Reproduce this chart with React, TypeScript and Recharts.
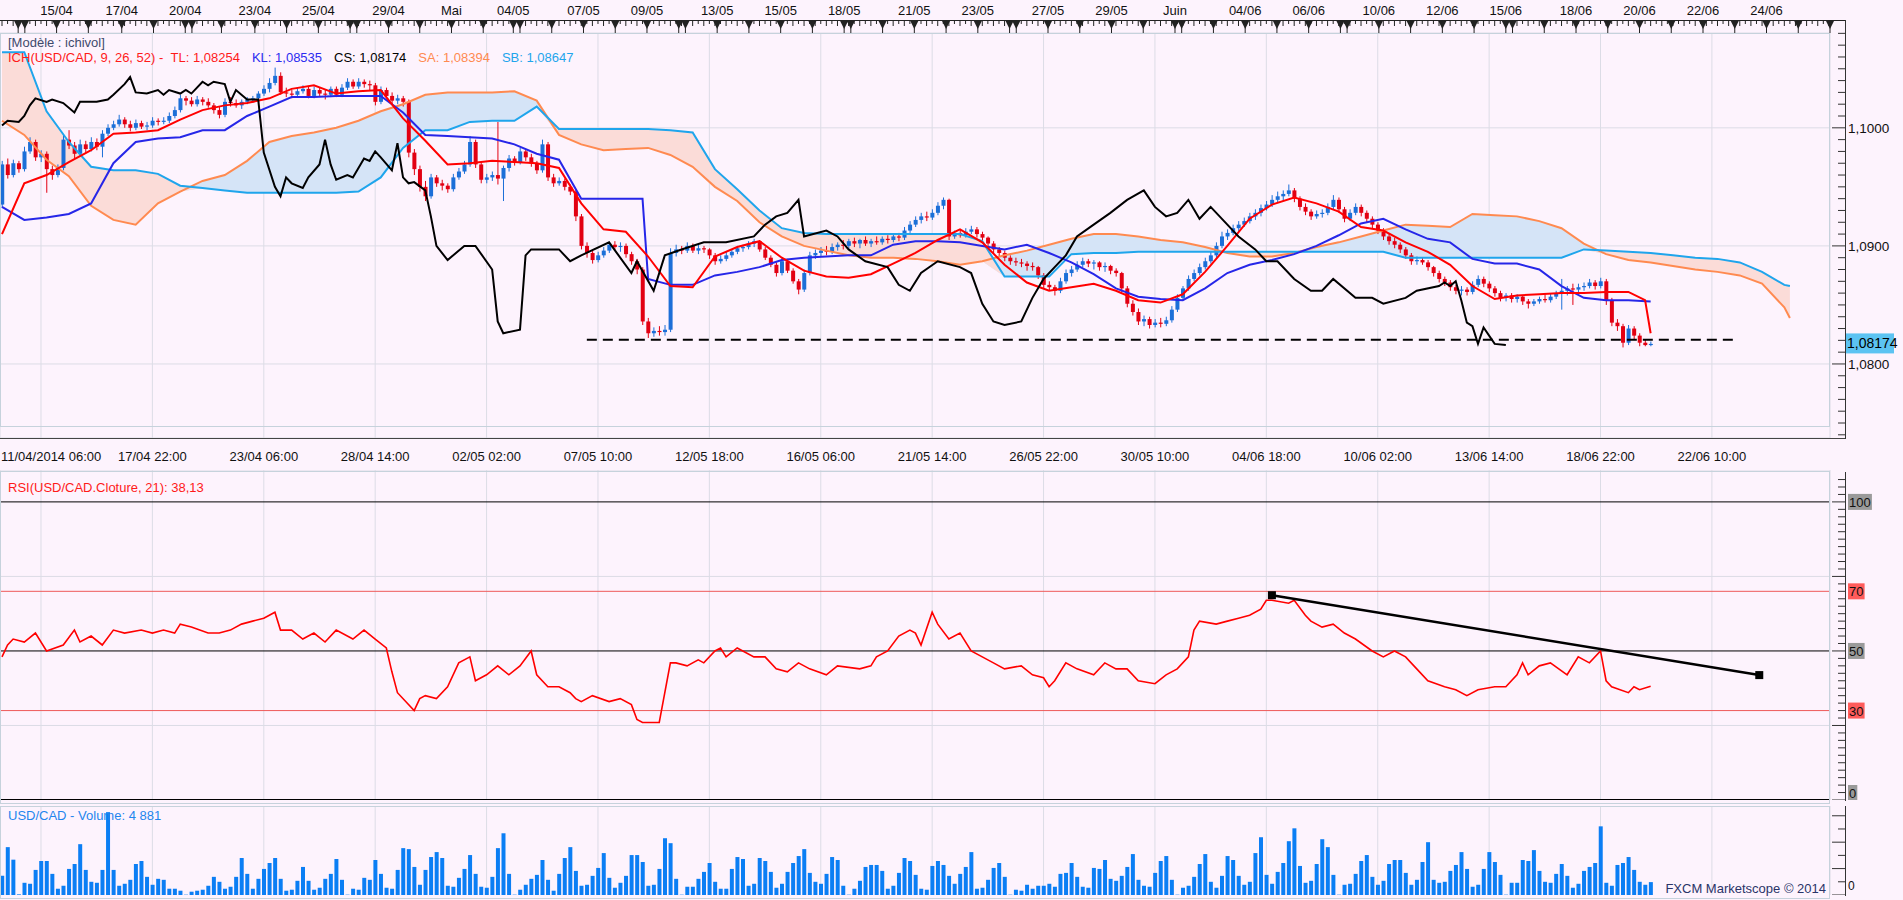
import React from 'react';
import {
  ComposedChart, Bar, Line, Area, XAxis, YAxis, CartesianGrid, ReferenceLine, ReferenceDot,
} from 'recharts';

// prices are kept in pips above 1,0800 ; x is the bar number (4h bars)
const BASE = 1.08;

// [open, high, low, close]
const candles = [
  [135,172,132,169],[169,174,157,160],[160,173,158,170],[170,172,162,165],[165,184,163,180],[180,192,178,188],[188,190,172,175],[175,181,171,178],[178,180,145,165],[165,168,156,160],
  [160,169,158,166],[166,194,164,190],[190,198,182,185],[185,188,174,178],[178,190,176,186],[186,189,179,182],[182,192,180,188],[188,191,181,184],[184,198,175,195],[195,203,193,200],
  [200,206,198,203],[203,211,201,207],[207,209,200,203],[203,206,197,200],[200,207,198,204],[204,206,199,201],[201,205,198,202],[202,209,200,206],[206,208,202,205],[205,209,203,206],
  [206,213,204,210],[210,218,208,215],[215,228,213,225],[225,227,219,223],[223,226,218,220],[220,227,218,224],[224,226,219,222],[222,225,217,219],[219,221,212,215],[215,218,208,211],
  [211,225,209,222],[222,226,218,221],[221,224,217,219],[219,224,216,222],[222,226,220,224],[224,227,221,225],[225,231,223,229],[229,236,227,233],[233,242,230,238],[238,251,236,244],
  [244,247,228,230],[230,234,226,229],[229,232,225,228],[228,234,226,231],[231,236,229,233],[233,235,225,227],[227,235,225,232],[232,234,227,229],[229,232,224,228],[228,235,226,233],
  [233,235,226,228],[228,237,226,234],[234,242,232,239],[239,241,233,235],[235,242,233,239],[239,241,234,237],[237,240,232,236],[236,238,219,222],[222,235,220,232],[232,234,225,227],
  [227,230,220,223],[223,228,220,225],[225,227,218,222],[222,224,175,179],[179,182,160,165],[165,168,146,150],[150,155,138,142],[142,161,140,158],[158,160,150,153],[153,156,147,151],
  [151,153,145,148],[148,161,146,158],[158,166,156,163],[163,172,161,169],[169,193,167,188],[188,190,166,169],[169,171,153,156],[156,161,153,158],[158,163,155,160],[160,205,152,157],
  [157,168,138,166],[166,177,163,174],[174,176,168,171],[171,183,169,180],[180,182,172,175],[175,178,167,170],[170,172,161,164],[164,190,162,186],[186,188,155,158],[158,161,150,153],
  [153,158,151,155],[155,157,147,150],[150,152,143,146],[146,148,121,125],[125,127,97,100],[100,103,90,94],[94,96,85,88],[88,95,86,92],[92,99,90,96],[96,103,94,101],
  [101,104,96,99],[99,103,95,100],[100,102,90,93],[93,95,84,87],[87,89,76,80],[80,82,33,36],[36,39,22,26],[26,31,23,28],[28,32,24,27],[27,33,24,29],
  [29,98,27,94],[94,101,91,97],[97,100,93,96],[96,103,94,100],[100,102,94,96],[96,101,93,98],[98,100,94,97],[97,98,89,92],[92,94,84,87],[87,92,85,89],
  [89,95,87,92],[92,97,90,95],[95,100,93,98],[98,101,95,99],[99,104,97,102],[102,106,99,104],[104,105,95,97],[97,99,88,90],[90,92,82,84],[84,86,74,77],
  [77,90,75,87],[87,89,77,79],[79,81,68,70],[70,72,59,63],[63,80,61,77],[77,95,75,92],[92,97,89,94],[94,99,91,96],[96,100,92,95],[95,102,93,99],
  [99,103,96,101],[101,105,97,100],[100,106,98,104],[104,107,99,102],[102,106,98,105],[105,108,100,102],[102,106,99,104],[104,108,101,103],[103,108,101,106],[106,109,102,105],
  [105,110,103,108],[108,111,104,107],[107,116,105,113],[113,121,111,118],[118,125,116,122],[122,128,119,125],[125,129,121,124],[124,131,122,128],[128,137,126,134],[134,141,131,139],
  [139,140,105,108],[108,113,106,111],[111,114,107,109],[109,115,107,112],[112,117,110,114],[114,116,107,110],[110,112,104,107],[107,108,99,102],[102,104,94,97],[97,99,91,94],
  [94,96,87,90],[90,92,84,87],[87,90,83,86],[86,89,82,85],[85,87,79,83],[83,86,79,82],[82,83,72,75],[75,77,64,67],[67,70,62,65],[65,67,58,62],
  [62,73,60,70],[70,80,68,77],[77,83,74,80],[80,87,78,84],[84,90,82,87],[87,89,82,85],[85,88,80,86],[86,87,79,82],[82,86,78,83],[83,84,76,79],
  [79,81,74,77],[77,78,61,64],[64,66,48,51],[51,54,41,44],[44,47,33,36],[36,41,32,38],[38,40,30,33],[33,38,31,35],[35,39,31,34],[34,40,32,37],
  [37,49,35,46],[46,59,44,56],[56,66,54,64],[64,75,62,72],[72,80,70,77],[77,85,75,82],[82,90,80,87],[87,95,85,92],[92,103,90,100],[100,112,98,108],
  [108,114,105,111],[111,118,109,115],[115,121,112,118],[118,124,116,121],[121,128,119,125],[125,131,122,128],[128,135,125,132],[132,138,130,135],[135,143,133,139],[139,146,137,142],
  [142,147,138,144],[144,152,142,147],[147,149,137,140],[140,142,130,133],[133,136,126,129],[129,131,122,125],[125,130,123,127],[127,131,124,128],[128,136,126,133],[133,143,131,139],
  [139,141,128,131],[131,133,120,123],[123,131,121,128],[128,136,126,133],[133,135,125,128],[128,130,120,123],[123,125,115,118],[118,120,110,113],[113,115,105,108],[108,110,101,104],
  [104,107,98,101],[101,103,94,97],[97,99,89,92],[92,94,84,87],[87,91,84,88],[88,90,84,86],[86,88,79,82],[82,83,74,77],[77,79,69,72],[72,74,66,69],
  [69,71,62,65],[65,67,59,62],[62,66,58,63],[63,65,58,61],[61,70,59,67],[67,75,65,72],[72,74,65,68],[68,70,61,64],[64,66,57,60],[60,62,53,56],
  [56,60,53,58],[58,60,52,55],[55,59,52,57],[57,58,50,53],[53,55,47,51],[51,55,49,53],[53,57,51,55],[55,59,52,54],[54,60,52,57],[57,62,55,60],
  [60,72,46,62],[62,66,58,64],[64,68,50,63],[63,68,60,65],[65,69,62,66],[66,72,64,69],[69,71,63,66],[66,73,64,70],[70,72,50,54],[54,56,32,35],
  [35,38,28,32],[32,34,14,18],[18,33,16,30],[30,32,21,24],[24,26,15,18],[18,21,15,16],[16,19,15,17],
];

const volumes = [
  7250,18125,13375,250,4625,4250,9500,12875,12875,
  8000,2375,3500,9875,11750,19250,9500,5000,4625,9500,
  31375,9500,3500,4250,5750,11750,12875,6875,3875,
  6125,5750,2375,2375,1625,125,1250,1625,2000,3500,
  6875,5000,2375,3125,6875,14000,8000,2375,6125,
  9875,12125,14000,6125,1625,2000,5375,10625,5375,
  2000,2750,6125,8000,13625,5750,125,2375,2000,6500,
  5750,13250,8000,2750,2375,9500,17750,17375,10625,3875,
  9500,14375,16250,14000,3500,3125,6500,9875,15125,
  8000,3125,2750,6875,17750,23375,8000,125,2000,3875,
  6125,7625,13250,5750,1625,8000,14000,18125,9125,
  3500,3875,7250,10250,15875,6500,2750,4625,7250,15125,
  15125,12500,3500,3875,9875,21500,19625,6125,125,3125,
  3125,6125,8750,12125,5000,2375,2375,9875,14375,13625,
  3500,4250,14000,12875,8750,2750,4250,8750,12125,14750,
  17375,8375,5000,4250,8000,14375,13250,3500,125,2375,
  5375,10625,11375,11375,9125,2375,3500,8375,14000,12875,
  7625,2375,2000,11000,12875,11375,
  7250,4250,8000,10625,16250,2375,2750,5750,10250,
  12125,6875,125,2000,1625,3875,2375,3500,3500,4250,
  3125,8000,8375,12125,6875,3125,2750,10250,9875,13250,
  6125,5375,7250,10625,15500,5750,3500,3125,8375,12875,
  14750,5750,125,2750,3500,6875,11750,15500,5000,2750,
  7250,14750,13250,7250,3875,5000,15875,21875,
  7625,4250,8750,12125,20375,25250,11000,4625,5375,
  11750,21125,18125,7625,125,3875,4250,8000,12875,15125,
  6875,3875,5375,11750,13250,13250,8375,3875,5750,12500,
  20000,5750,4625,5000,9125,11375,16250,9875,3125,3875,
  9875,16250,12500,7625,125,4625,4625,13250,12875,17000,
  9125,5000,4625,8000,11750,7250,2750,4250,9125,
  10625,12125,26000,4625,3500,11375,12125,14375,9500,5000,
  3875,4881,
];

// [bar, pips]
const tenkan = [
  [0,110],[4,153],[8,160],[12,171],[16,181],[20,195],[24,196],[28,198],[32,207],[36,215],[40,219],[44,221],[48,225],[52,233],[56,236],[60,229],
  [64,231],[68,232],[72,208],[76,189],[80,169],[84,170],[88,172],[92,171],[96,170],[100,166],[104,136],[108,114],[112,112],[116,91],[120,66],
  [124,65],[128,91],[132,99],[136,104],[140,90],[144,79],[148,74],[152,73],[156,76],[160,85],[164,94],[168,105],[172,114],[176,103],[180,84],
  [184,69],[188,62],[192,65],[196,68],[200,62],[204,54],[208,52],[212,59],[216,78],[220,100],[224,123],[228,135],[232,141],[236,136],[240,129],
  [244,116],[248,113],[252,103],[256,95],[260,84],[264,66],[268,55],[272,58],[276,59],[280,60],[284,60],[288,61],[292,61],[295,54],[296,26],
];

const kijun = [
  [0,133],[4,122],[8,124],[12,127],[16,136],[20,170],[24,188],[28,191],[32,192],[36,198],[40,198],[44,210],[48,218],[52,226],[56,226],[60,227],
  [64,227],[68,227],[72,213],[76,194],[80,193],[84,192],[88,191],[92,186],[96,178],[100,173],[104,140],[108,140],[112,140],[115,140],[116,72],
  [120,67],[124,67],[128,75],[132,78],[136,82],[140,88],[144,90],[148,91],[152,92],[156,92],[160,101],[164,104],[168,104],[172,103],[176,100],
  [180,97],[184,101],[188,94],[192,86],[196,76],[200,64],[204,57],[208,55],[212,54],[216,64],[220,77],[224,84],[228,88],[232,93],[236,100],
  [240,109],[244,119],[248,123],[252,114],[256,106],[260,103],[264,89],[268,85],[272,85],[276,80],[280,66],[284,56],[288,54],[292,54],[296,53],
];

const chikou = [
  [0,202],[1,206],[3,205],[4,210],[5,219],[6,225],[8,222],[9,224],[11,221],[13,213],[14,222],[17,222],[19,224],[20,228],[22,237],[23,243],
  [24,230],[26,229],[28,232],[29,228],[30,232],[32,229],[33,232],[34,229],[36,239],[37,236],[38,239],[40,237],[41,222],[42,232],[44,224],
  [46,224],[47,179],[49,150],[50,142],[51,158],[52,153],[54,149],[55,158],[57,169],[58,190],[59,169],[60,156],[62,160],[63,158],[65,174],
  [66,172],[67,180],[68,175],[70,164],[71,187],[72,158],[73,153],[74,154],[76,147],[77,125],[78,100],[80,88],[83,100],[85,100],[88,80],
  [89,36],[90,26],[93,29],[94,92],[95,97],[100,97],[102,87],[104,92],[109,103],[113,77],[114,87],[117,62],[119,92],[122,97],[126,103],
  [130,103],[135,108],[137,118],[139,125],[141,128],[143,139],[144,108],[148,113],[150,108],[152,97],[155,87],[159,82],[161,67],[163,62],
  [165,77],[168,87],[172,82],[174,77],[176,51],[178,36],[180,33],[183,36],[185,56],[187,72],[189,82],[191,92],[193,108],[196,118],[199,128],
  [202,139],[205,147],[207,133],[209,125],[211,128],[213,139],[215,123],[217,133],[220,118],[222,108],[225,97],[227,87],[229,87],[232,72],
  [235,62],[237,62],[239,72],[243,56],[246,56],[248,51],[252,56],[254,62],[258,66],[259,69],[260,66],[261,70],[262,54],[263,35],[264,32],
  [265,17],[266,31],[268,17],[270,16],
];

const cloudIdx = [
  0,4,8,12,16,20,24,28,32,36,40,44,48,52,56,60,64,68,72,76,80,84,88,92,96,100,104,108,112,116,120,124,128,132,136,140,144,148,152,156,
  160,164,168,172,176,180,184,188,192,196,200,204,208,212,216,220,224,228,232,236,240,244,248,252,256,260,264,268,272,276,280,284,288,292,296,
  300,304,308,312,316,320,321,
];
const spanA = [
  206,194,173,159,134,122,118,136,146,155,160,172,188,193,196,200,206,214,220,228,
  230,230,230,231,223,194,186,181,182,183,177,167,150,138,120,108,100,96,92,90,
  90,89,87,84,87,92,96,101,106,110,110,108,105,103,99,94,91,91,94,99,
  103,108,113,118,117,116,127,126,125,121,115,102,93,88,86,83,80,78,75,68,48,39,
];
const spanB = [
  264,264,214,188,167,164,164,161,151,149,147,145,145,145,145,145,146,158,183,198,
  198,205,206,206,218,199,199,199,199,199,198,196,165,148,130,115,111,110,110,110,
  110,110,110,110,104,74,74,74,93,94,94,95,95,95,95,95,95,95,95,95,
  95,95,95,90,90,90,90,90,90,90,90,97,96,95,94,92,90,89,86,78,67,66,
];

// [bar, RSI]
const rsi = [
  [0,48],[1,52],[2,54],[4,53],[6,56],[8,50],[11,52],[13,57],[14,53],[16,55],[18,52],[20,57],[22,56],[25,57],[27,56],[29,57],[31,56],[32,59],
  [34,58],[37,56],[39,56],[41,57],[43,59],[45,60],[47,61],[49,63],[50,57],[52,57],[54,54],[56,56],[58,53],[60,57],[63,54],[65,57],[67,54],
  [69,51],[70,43],[71,36],[74,30],[75,34],[76,35],[78,34],[80,38],[82,46],[84,48],[85,40],[87,42],[89,45],[91,42],[93,45],[95,50],[96,42],
  [98,38],[100,38],[102,36],[103,34],[104,33],[106,35],[109,33],[111,34],[113,32],[114,27],[115,26],[117,26],[118,26],[120,46],[121,46],
  [123,45],[125,47],[126,46],[128,50],[129,51],[130,48],[132,51],[135,48],[137,48],[139,44],[141,43],[143,46],[145,44],[148,42],[150,45],
  [154,44],[156,45],[157,48],[159,50],[161,55],[163,57],[164,56],[165,52],[167,63],[168,59],[170,54],[172,56],[174,50],[176,48],[178,46],
  [180,44],[183,45],[185,42],[187,41],[188,38],[189,40],[191,46],[193,44],[196,42],[198,46],[200,44],[202,44],[204,40],[207,39],[209,42],
  [211,44],[213,48],[214,57],[215,60],[218,59],[220,60],[222,61],[224,62],[226,64],[227,67],[228,67],[231,66],[232,67],[234,62],[235,60],
  [237,58],[239,59],[241,56],[243,54],[246,50],[248,48],[250,50],[252,48],[254,44],[256,40],[259,38],[261,37],[263,35],[265,37],[268,38],
  [270,38],[272,42],[273,46],[274,42],[276,45],[278,46],[281,42],[283,48],[285,46],[287,50],[288,40],[289,38],[292,36],[293,38],[294,37],[296,38.13],
];

const supportLevel = 20.5; // dashed horizontal, pips
const supportFrom = 105;
const supportTo = 311;
const rsiTrend = [[228, 68.7], [315.5, 41.9]];
const lastPrice = 1.08174;

const dayTicks = [
  2.9,4.1,9.8,15.5,21.5,27.2,32.9,34.1,39.4,45.4,51.1,56.8,62.5,63.7,69.4,75,80.7,86.4,91.8,93,98.7,104.4,110.1,115.8,121.5,122.7,
  128.4,134.1,139.8,145.5,151.2,152.4,158.1,163.8,169.5,175.2,180.9,182.1,187.8,193.5,199.2,204.9,210.6,211.8,217.5,223.2,228.9,234.6,
  240.3,241.5,247.2,252.9,258.6,264.3,270,271.2,276.9,282.6,288.3,294,299.7,305.4,311.1,316.8,322.5,328.2,
];
const topLabelAt = [9.8,21.5,32.9,45.4,56.8,69.4,80.7,91.8,104.4,115.8,128.4,139.8,151.2,163.8,175.2,187.8,199.2,210.6,223.2,234.6,247.2,258.6,270,282.6,294,305.4,316.8];
const topLabelText = ['15/04','17/04','20/04','23/04','25/04','29/04','Mai','04/05','07/05','09/05','13/05','15/05','18/05','21/05','23/05','27/05','29/05','Juin','04/06','06/06','10/06','12/06','15/06','18/06','20/06','22/06','24/06'];
const labelTicks = [7,27,47,67,87,107,127,147,167,187,207,227,247,267,287,307];
const bottomLabels = ['11/04/2014 06:00','17/04 22:00','23/04 06:00','28/04 14:00','02/05 02:00','07/05 10:00','12/05 18:00','16/05 06:00','21/05 14:00','26/05 22:00','30/05 10:00','04/06 18:00','10/06 02:00','13/06 14:00','18/06 22:00','22/06 10:00'];

const BG = '#fdf3fd';
const FONT = "'Liberation Sans', Arial, sans-serif";
const UP = '#1c6fd8';
const DOWN = '#e20012';
const W = 1903;
const AX = 1845;
const X_DOMAIN = [-0.36, 328.2];
const P_DOMAIN = [1.07373, 1.10803];
const LAST_ROW = 328;

const px = (p: number) => +(BASE + p / 10000).toFixed(5);

const rows: any[] = Array.from({ length: LAST_ROW + 1 }, (_, i) => ({ i }));
candles.forEach(([o, h, l, c], i) => {
  Object.assign(rows[i], { o: px(o), h: px(h), l: px(l), c: px(c), range: [px(l), px(h)] });
});
volumes.forEach((v, i) => { rows[i].vol = v; });
tenkan.forEach(([i, p]) => { rows[i].tenkan = px(p); });
kijun.forEach(([i, p]) => { rows[i].kijun = px(p); });
chikou.forEach(([i, p]) => { rows[i].chikou = px(p); });
rsi.forEach(([i, v]) => { rows[i].rsi = v; });
cloudIdx.forEach((i, k) => {
  const a = spanA[k];
  const b = spanB[k];
  rows[i].spanA = px(a);
  rows[i].spanB = px(b);
  rows[i].blue = a >= b ? [px(b), px(a)] : [px(a), px(a)];
  rows[i].pink = b > a ? [px(a), px(b)] : [px(b), px(b)];
});

const topTicks = [
  ...Array.from({ length: LAST_ROW + 1 }, (_, i) => i).filter((i) => !dayTicks.includes(i)),
  ...dayTicks,
].sort((a, b) => a - b);
const priceTicks = [...Array.from({ length: 35 }, (_, k) => (1074 + k) / 1000), lastPrice];
const rsiTicks = Array.from({ length: 44 }, (_, k) => k * 2.5);
const volTicks = [0, 5000, 10000, 15000, 20000, 25000, 30000];

const Candle = (props: any) => {
  const { x, y, width, height, payload } = props;
  if (!payload || payload.o == null) return null;
  const { o, h, l, c } = payload;
  const top = Math.min(y, y + height);
  const hh = Math.abs(height);
  const span = h - l || 1e-6;
  const py = (p: number) => top + ((h - p) / span) * hh;
  const color = c >= o ? UP : DOWN;
  const cx = x + width / 2;
  const b1 = py(Math.max(o, c));
  const b2 = py(Math.min(o, c));
  return (
    <g>
      <line x1={cx} x2={cx} y1={top} y2={top + hh} stroke={color} strokeWidth={1} />
      <rect x={x} y={b1} width={width} height={Math.max(1, b2 - b1)} fill={color} />
    </g>
  );
};

const TopTick = (props: any) => {
  const { x, payload } = props;
  const v = payload.value;
  if (!dayTicks.includes(v)) {
    return <line x1={x} x2={x} y1={21} y2={v % 2 === 0 ? 26 : 24} stroke="#222" />;
  }
  const li = topLabelAt.indexOf(v);
  return (
    <g>
      <line x1={x} x2={x} y1={21} y2={33} stroke="#222" />
      <polygon points={`${x - 4},21 ${x + 4},21 ${x},29`} fill="#222" />
      {li >= 0 && (
        <text x={x} y={15} textAnchor="middle" fontSize={13} fill="#111" fontFamily={FONT}>{topLabelText[li]}</text>
      )}
    </g>
  );
};

const BottomTick = (props: any) => {
  const { x, payload } = props;
  const k = labelTicks.indexOf(payload.value);
  if (k < 0) return null;
  const first = k === 0;
  return (
    <text x={first ? 1 : x} y={461} textAnchor={first ? 'start' : 'middle'} fontSize={13} fill="#111" fontFamily={FONT}>
      {bottomLabels[k]}
    </text>
  );
};

const PriceTick = (props: any) => {
  const { y, payload } = props;
  const v = payload.value;
  if (v === lastPrice) {
    return (
      <g>
        <rect x={AX + 1} y={y - 10} width={48} height={20} fill="#5cc3f2" />
        <text x={AX + 2} y={y + 5} fontSize={14} fill="#000" fontFamily={FONT}>{v.toFixed(5).replace('.', ',')}</text>
      </g>
    );
  }
  const major = Math.round(v * 1000) % 10 === 0;
  return (
    <g>
      <line x1={AX - (major ? 13 : 7)} x2={AX} y1={y} y2={y} stroke="#333" />
      {major && (
        <text x={AX + 3} y={y + 5} fontSize={13.5} fill="#111" fontFamily={FONT}>{v.toFixed(4).replace('.', ',')}</text>
      )}
    </g>
  );
};

const rsiBoxes: Record<number, string> = { 100: '#9a9a9a', 70: '#ff5b5b', 50: '#9a9a9a', 30: '#ff5b5b', 0: '#9a9a9a' };

const RsiTick = (props: any) => {
  const { y, payload } = props;
  const v = payload.value;
  const major = v % 25 === 0;
  const box = rsiBoxes[v];
  const label = String(v);
  const bw = label.length * 7.3 + 2;
  // the bottom label is lifted so that it stays inside the panel
  const ty = v === 0 ? y - 7 : y;
  return (
    <g>
      <line x1={AX - (major ? 13 : 7)} x2={AX} y1={y} y2={y} stroke="#333" />
      {box && (
        <g>
          <rect x={AX + 3} y={ty - 8} width={bw} height={16} fill={box} />
          <text x={AX + 4} y={ty + 5} fontSize={13} fill="#111" fontFamily={FONT}>{label}</text>
        </g>
      )}
    </g>
  );
};

const VolTick = (props: any) => {
  const { y, payload } = props;
  const v = payload.value;
  const major = v % 10000 === 0;
  return (
    <g>
      <line x1={AX - (major ? 13 : 7)} x2={AX} y1={y} y2={y} stroke="#333" />
      {v === 0 && <text x={AX + 3} y={y - 5} fontSize={12} fill="#111" fontFamily={FONT}>0</text>}
    </g>
  );
};

const Square = (p: any) => <rect x={p.cx - 4} y={p.cy - 4} width={8} height={8} fill="#000" />;

const abs = (left: number, top: number, width: number, height: number, extra: any = {}) => ({
  position: 'absolute' as const, left, top, width, height, boxSizing: 'border-box' as const, pointerEvents: 'none' as const, ...extra,
});

const FRAME = '1px solid #c6d2dc';

export default function App() {
  return (
    <div style={{ position: 'absolute', left: 0, top: 0, width: W, height: 900, background: BG, overflow: 'hidden', fontFamily: FONT }}>
      {/* price + ichimoku */}
      <div style={{ position: 'absolute', left: 0, top: 0 }}>
        <ComposedChart width={W} height={470} data={rows} margin={{ top: 0, right: 0, bottom: 0, left: 0 }}>
          <XAxis xAxisId="top" orientation="top" dataKey="i" type="number" domain={X_DOMAIN} ticks={topTicks} interval={0}
            tick={<TopTick />} tickLine={false} axisLine={false} height={33} allowDataOverflow />
          <XAxis dataKey="i" type="number" domain={X_DOMAIN} ticks={labelTicks} interval={0}
            tick={<BottomTick />} tickLine={false} axisLine={false} height={32} allowDataOverflow />
          <YAxis orientation="right" type="number" width={73} domain={P_DOMAIN} ticks={priceTicks} interval={0}
            tick={<PriceTick />} tickLine={false} axisLine={false} allowDataOverflow />
          <YAxis yAxisId="g" hide type="number" domain={P_DOMAIN} ticks={[1.08, 1.09, 1.1]} allowDataOverflow />
          <CartesianGrid yAxisId="g" stroke="#dcdce6" />
          <Area dataKey="blue" type="linear" stroke="none" fill="#d5e4f7" fillOpacity={1} connectNulls isAnimationActive={false} />
          <Area dataKey="pink" type="linear" stroke="none" fill="#fbdcd8" fillOpacity={1} connectNulls isAnimationActive={false} />
          <Line dataKey="spanA" type="linear" stroke="#ff8a50" strokeWidth={2} dot={false} connectNulls isAnimationActive={false} />
          <Line dataKey="spanB" type="linear" stroke="#1fa5ec" strokeWidth={2} dot={false} connectNulls isAnimationActive={false} />
          <ReferenceLine segment={[{ x: supportFrom, y: px(supportLevel) }, { x: supportTo, y: px(supportLevel) }]}
            stroke="#000" strokeWidth={2} strokeDasharray="10 6" />
          <Bar dataKey="range" shape={<Candle />} barSize={4} isAnimationActive={false} />
          <Line dataKey="kijun" type="linear" stroke="#2626e8" strokeWidth={2} dot={false} connectNulls isAnimationActive={false} />
          <Line dataKey="tenkan" type="linear" stroke="#ff0000" strokeWidth={2} dot={false} connectNulls isAnimationActive={false} />
          <Line dataKey="chikou" type="linear" stroke="#000" strokeWidth={2} dot={false} connectNulls isAnimationActive={false} />
        </ComposedChart>
      </div>

      {/* RSI */}
      <div style={{ position: 'absolute', left: 0, top: 470 }}>
        <ComposedChart width={W} height={330} data={rows} margin={{ top: 0, right: 0, bottom: 0, left: 0 }}>
          <XAxis dataKey="i" type="number" domain={X_DOMAIN} ticks={labelTicks} hide allowDataOverflow />
          <YAxis orientation="right" type="number" width={73} domain={[0, 110.7]} ticks={rsiTicks} interval={0}
            tick={<RsiTick />} tickLine={false} axisLine={false} allowDataOverflow />
          <YAxis yAxisId="g" hide type="number" domain={[0, 110.7]} ticks={[25, 75]} allowDataOverflow />
          <CartesianGrid yAxisId="g" stroke="#dcdce6" />
          <ReferenceLine y={100} stroke="#000" />
          <ReferenceLine y={70} stroke="#ee5a5a" />
          <ReferenceLine y={50} stroke="#000" />
          <ReferenceLine y={30} stroke="#ee5a5a" />
          <ReferenceLine y={0} stroke="#000" strokeWidth={2} />
          <Line dataKey="rsi" type="linear" stroke="#ff0000" strokeWidth={1.6} dot={false} connectNulls isAnimationActive={false} />
          <ReferenceLine segment={[{ x: rsiTrend[0][0], y: rsiTrend[0][1] }, { x: rsiTrend[1][0], y: rsiTrend[1][1] }]}
            stroke="#000" strokeWidth={2.5} />
          <ReferenceDot x={rsiTrend[0][0]} y={rsiTrend[0][1]} r={4} shape={Square} />
          <ReferenceDot x={rsiTrend[1][0]} y={rsiTrend[1][1]} r={4} shape={Square} />
        </ComposedChart>
      </div>

      {/* volume */}
      <div style={{ position: 'absolute', left: 0, top: 806 }}>
        <ComposedChart width={W} height={89} data={rows} margin={{ top: 0, right: 0, bottom: 0, left: 0 }}>
          <XAxis dataKey="i" type="number" domain={X_DOMAIN} ticks={labelTicks} hide allowDataOverflow />
          <YAxis orientation="right" type="number" width={73} domain={[0, 33700]} ticks={volTicks} interval={0}
            tick={<VolTick />} tickLine={false} axisLine={false} allowDataOverflow />
          <CartesianGrid horizontal={false} stroke="#dcdce6" />
          <Bar dataKey="vol" fill="#0b7ef4" barSize={4} isAnimationActive={false} />
        </ComposedChart>
      </div>

      {/* frames and axis rules */}
      <div style={abs(0, 20, 1846, 1, { background: '#222' })} />
      <div style={abs(0, 33, 1830, 394, { border: FRAME })} />
      <div style={abs(0, 438, 1846, 1, { background: '#444' })} />
      <div style={abs(AX, 20, 1, 419, { background: '#333' })} />
      <div style={abs(0, 471, 1830, 333, { border: FRAME })} />
      <div style={abs(AX, 472, 1, 329, { background: '#333' })} />
      <div style={abs(0, 806, 1830, 93, { border: FRAME })} />
      <div style={abs(AX, 806, 1, 90, { background: '#333' })} />

      {/* texts */}
      <div style={abs(8, 35, 300, 16, { fontSize: 13, color: '#3f4a6c', lineHeight: '16px' })}>[Modèle : ichivol]</div>
      <div style={abs(8, 50, 700, 16, { fontSize: 13, lineHeight: '16px', whiteSpace: 'nowrap' })}>
        <span style={{ color: '#ff1a1a' }}>ICH(USD/CAD, 9, 26, 52) -&nbsp;&nbsp;TL: 1,08254</span>
        <span style={{ color: '#2b2bf0', marginLeft: 12 }}>KL: 1,08535</span>
        <span style={{ color: '#000', marginLeft: 12 }}>CS: 1,08174</span>
        <span style={{ color: '#ff8a50', marginLeft: 12 }}>SA: 1,08394</span>
        <span style={{ color: '#1fa5ec', marginLeft: 12 }}>SB: 1,08647</span>
      </div>
      <div style={abs(8, 480, 400, 16, { fontSize: 13, color: '#ff1a1a', lineHeight: '16px' })}>RSI(USD/CAD.Cloture, 21): 38,13</div>
      <div style={abs(8, 808, 400, 16, { fontSize: 13, color: '#1f86ee', lineHeight: '16px' })}>USD/CAD - Volume: 4 881</div>
      <div style={abs(1500, 881, 326, 16, { fontSize: 13, color: '#2a3468', lineHeight: '16px', textAlign: 'right' })}>FXCM Marketscope © 2014</div>
    </div>
  );
}
